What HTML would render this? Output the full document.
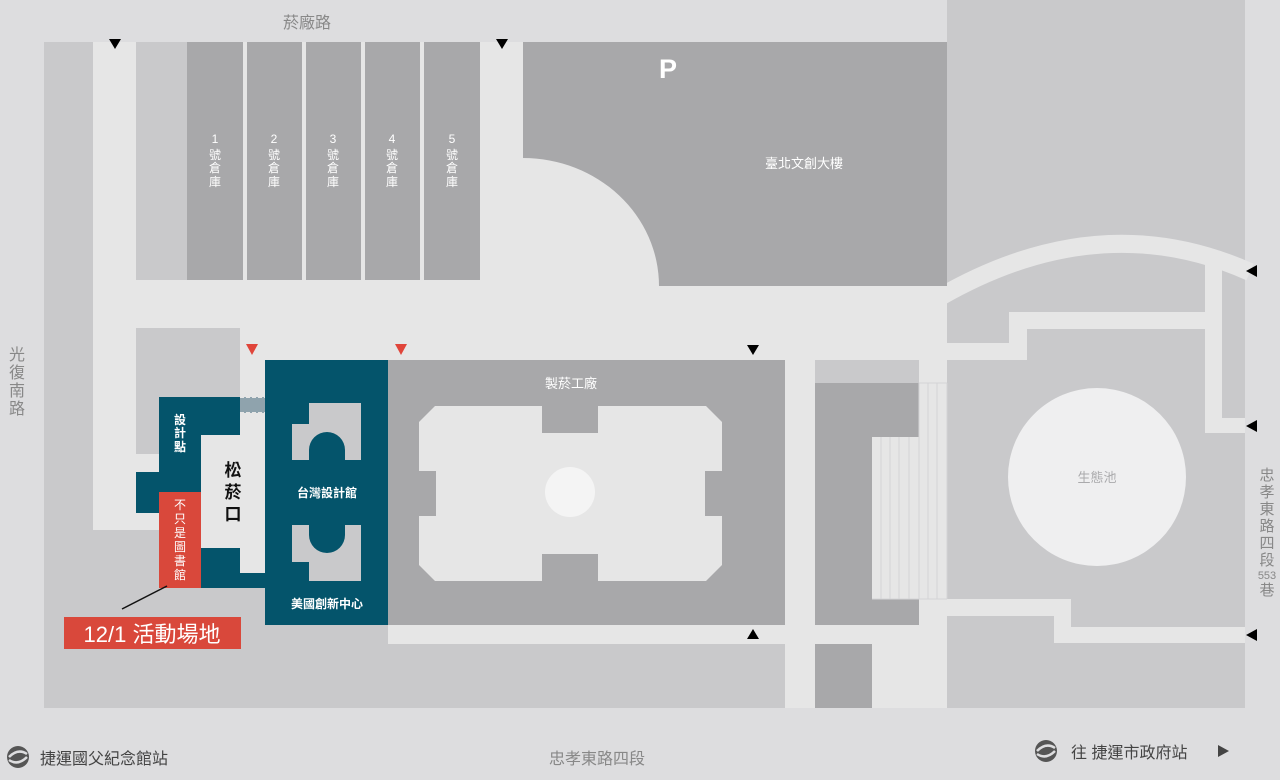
<!DOCTYPE html>
<html><head><meta charset="utf-8"><style>
html,body{margin:0;padding:0;background:#dddddf;}
svg{display:block}
text{font-family:"Liberation Sans","Noto Sans CJK TC",sans-serif;}
</style></head><body>
<svg width="1280" height="780" viewBox="0 0 1280 780" xmlns="http://www.w3.org/2000/svg">
<rect x="0" y="0" width="1280" height="780" fill="#dddddf"/>
<!-- site base -->
<rect x="44" y="42" width="1201" height="666" fill="#e6e6e6"/>
<!-- right block -->
<rect x="947" y="0" width="298" height="708" fill="#c9c9cb"/>
<!-- curved path -->
<path d="M940,297 Q1100,205 1250,272" fill="none" stroke="#e6e6e6" stroke-width="18"/>
<!-- right paths -->
<rect x="940" y="343" width="87" height="17" fill="#e6e6e6"/>
<rect x="1009" y="312" width="18" height="48" fill="#e6e6e6"/>
<rect x="1009" y="312" width="213" height="17" fill="#e6e6e6"/>
<rect x="1205" y="265" width="17" height="168" fill="#e6e6e6"/>
<rect x="1205" y="418" width="40" height="15" fill="#e6e6e6"/>
<rect x="872" y="599" width="199" height="17" fill="#e6e6e6"/>
<rect x="1054" y="599" width="17" height="44" fill="#e6e6e6"/>
<rect x="1054" y="627" width="191" height="16" fill="#e6e6e6"/>
<circle cx="1097" cy="477" r="89" fill="#efeff0"/>
<text x="1097" y="482" font-size="13" fill="#aaaaac" text-anchor="middle">生態池</text>
<!-- left strip & columns -->
<rect x="44" y="42" width="49" height="490" fill="#c9c9cb"/>
<rect x="136" y="42" width="51" height="238" fill="#c9c9cb"/>
<g fill="#a8a8aa">
<rect x="187" y="42" width="56" height="238"/>
<rect x="247" y="42" width="55" height="238"/>
<rect x="306" y="42" width="55" height="238"/>
<rect x="365" y="42" width="55" height="238"/>
<rect x="424" y="42" width="56" height="238"/>
</g>
<g fill="#ffffff" font-size="12" text-anchor="middle">
<text x="215" y="143">1</text><text x="215" y="159">號</text><text x="215" y="172">倉</text><text x="215" y="186">庫</text>
<text x="274" y="143">2</text><text x="274" y="159">號</text><text x="274" y="172">倉</text><text x="274" y="186">庫</text>
<text x="333" y="143">3</text><text x="333" y="159">號</text><text x="333" y="172">倉</text><text x="333" y="186">庫</text>
<text x="392" y="143">4</text><text x="392" y="159">號</text><text x="392" y="172">倉</text><text x="392" y="186">庫</text>
<text x="452" y="143">5</text><text x="452" y="159">號</text><text x="452" y="172">倉</text><text x="452" y="186">庫</text>
</g>
<!-- P building -->
<path d="M523,42 H947 V286 H659 A136,128 0 0 0 523,158 Z" fill="#a8a8aa"/>
<text x="668" y="78" font-size="27" font-weight="bold" fill="#ffffff" text-anchor="middle">P</text>
<text x="804" y="168" font-size="13" fill="#ffffff" text-anchor="middle">臺北文創大樓</text>
<!-- bottom gray -->
<rect x="44" y="530" width="741" height="178" fill="#c9c9cb"/>
<rect x="388" y="625" width="397" height="19" fill="#e6e6e6"/>
<rect x="136" y="328" width="104" height="126" fill="#c9c9cb"/>
<!-- factory -->
<rect x="388" y="360" width="397" height="265" fill="#a8a8aa"/>
<path d="M435,406 H542 V433 H598 V406 H706 L722,422 V471 H705 V516 H722 V565 L706,581 H598 V554 H542 V581 H435 L419,565 V516 H436 V471 H419 V422 Z" fill="#e6e6e6"/>
<circle cx="570" cy="492" r="25" fill="#f4f4f4"/>
<text x="571" y="388" font-size="13" fill="#ffffff" text-anchor="middle">製菸工廠</text>
<!-- middle column -->
<rect x="815" y="360" width="104" height="23" fill="#c9c9cb"/>
<rect x="815" y="383" width="104" height="242" fill="#a8a8aa"/>
<rect x="872" y="437" width="47" height="162" fill="#e6e6e6"/>
<rect x="919" y="383" width="28" height="216" fill="#e6e6e6"/>
<g stroke="#d4d4d6" stroke-width="1">
<line x1="881" y1="437" x2="881" y2="599"/><line x1="890" y1="437" x2="890" y2="599"/><line x1="899" y1="437" x2="899" y2="599"/><line x1="909" y1="437" x2="909" y2="599"/><line x1="919" y1="383" x2="919" y2="599"/><line x1="928" y1="383" x2="928" y2="599"/><line x1="937" y1="383" x2="937" y2="599"/><line x1="947" y1="383" x2="947" y2="599"/>
<line x1="872" y1="599" x2="947" y2="599"/><line x1="919" y1="383" x2="947" y2="383"/>
</g>
<rect x="815" y="644" width="57" height="64" fill="#a8a8aa"/>
<!-- teal -->
<g fill="#04546b">
<rect x="159" y="397" width="81" height="191"/>
<rect x="136" y="472" width="23" height="41"/>
<rect x="201" y="573" width="64" height="15"/>
<rect x="265" y="360" width="123" height="265"/>
</g>
<rect x="240" y="397" width="25" height="16" fill="#8fa3ad"/>
<line x1="240" y1="397.5" x2="265" y2="397.5" stroke="#e6e6e6" stroke-dasharray="4,2"/>
<line x1="240" y1="412.5" x2="265" y2="412.5" stroke="#e6e6e6" stroke-dasharray="4,2"/>
<rect x="201" y="435" width="39" height="113" fill="#e6e6e6"/>
<rect x="240" y="413" width="25" height="160" fill="#e6e6e6"/>
<!-- inner cutouts -->
<path d="M309,403 H361 V460 H345 V450 A18,18 0 0 0 309,450 V460 H292 V424 H309 Z" fill="#c9c9cb"/>
<path d="M309,581 H361 V525 H345 V535 A18,18 0 0 1 309,535 V525 H292 V562 H309 Z" fill="#c9c9cb"/>
<text x="327" y="497" font-size="12" font-weight="bold" fill="#ffffff" text-anchor="middle">台灣設計館</text>
<text x="327" y="608" font-size="12" font-weight="bold" fill="#ffffff" text-anchor="middle">美國創新中心</text>
<g fill="#ffffff" font-size="12" font-weight="bold" text-anchor="middle">
<text x="180" y="424">設</text><text x="180" y="437">計</text><text x="180" y="451">點</text>
</g>
<g fill="#111" font-size="17" font-weight="bold" text-anchor="middle">
<text x="233" y="476">松</text><text x="233" y="498">菸</text><text x="233" y="520">口</text>
</g>
<rect x="159" y="492" width="42" height="96" fill="#d9483b"/>
<g fill="#ffffff" font-size="12" text-anchor="middle">
<text x="180" y="509">不</text><text x="180" y="523">只</text><text x="180" y="537">是</text><text x="180" y="551">圖</text><text x="180" y="565">書</text><text x="180" y="579">館</text>
</g>
<line x1="122" y1="609" x2="167" y2="586" stroke="#111" stroke-width="1.5"/>
<rect x="64" y="617" width="177" height="32" fill="#d9483b"/>
<text x="152" y="642" font-size="22" fill="#ffffff" text-anchor="middle">12/1 活動場地</text>
<!-- arrows -->
<g fill="#000">
<path d="M109,39 L121,39 L115,49 Z"/>
<path d="M496,39 L508,39 L502,49 Z"/>
<path d="M747,345 L759,345 L753,355 Z"/>
<path d="M747,639 L759,639 L753,629 Z"/>
<path d="M1257,265 L1257,277 L1246,271 Z"/>
<path d="M1257,420 L1257,432 L1246,426 Z"/>
<path d="M1257,629 L1257,641 L1246,635 Z"/>
</g>
<g fill="#e0453a">
<path d="M246,344 L258,344 L252,355 Z"/>
<path d="M395,344 L407,344 L401,355 Z"/>
</g>
<!-- street labels -->
<text x="307" y="28" font-size="16" fill="#888" text-anchor="middle">菸廠路</text>
<g fill="#888" font-size="16" text-anchor="middle">
<text x="17" y="360">光</text><text x="17" y="378">復</text><text x="17" y="396">南</text><text x="17" y="414">路</text>
</g>
<g fill="#888" font-size="15" text-anchor="middle">
<text x="1267" y="480">忠</text><text x="1267" y="497">孝</text><text x="1267" y="514">東</text><text x="1267" y="531">路</text><text x="1267" y="548">四</text><text x="1267" y="565">段</text>
<text x="1267" y="579" font-size="11">553</text><text x="1267" y="595">巷</text>
</g>
<text x="597" y="764" font-size="16" fill="#888" text-anchor="middle">忠孝東路四段</text>
<!-- metro icons -->
<g>
<circle cx="18" cy="757" r="11" fill="#555"/>
<path d="M9,757 Q18,748 27,754 M9,760 Q18,766 27,757" stroke="#dddddf" stroke-width="2.5" fill="none"/>
</g>
<text x="40" y="764" font-size="16" fill="#444">捷運國父紀念館站</text>
<g>
<circle cx="1046" cy="751" r="11" fill="#555"/>
<path d="M1037,751 Q1046,742 1055,748 M1037,754 Q1046,760 1055,751" stroke="#dddddf" stroke-width="2.5" fill="none"/>
</g>
<text x="1071" y="758" font-size="16" fill="#444">往 捷運市政府站</text>
<path d="M1218,745 L1218,757 L1229,751 Z" fill="#444"/>
</svg>
</body></html>
